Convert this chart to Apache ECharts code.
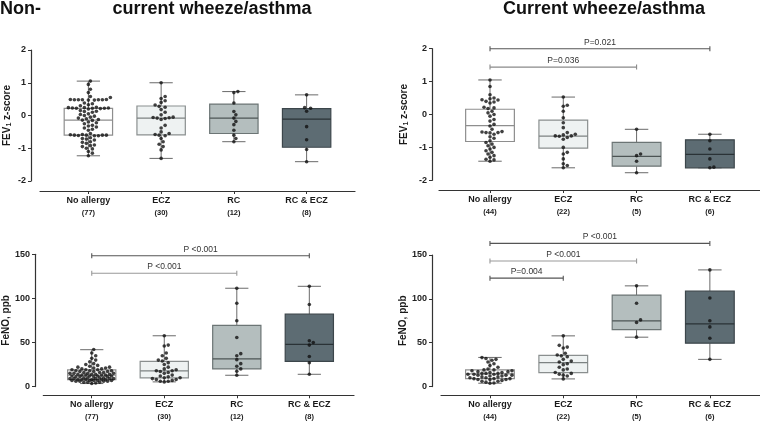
<!DOCTYPE html>
<html><head><meta charset="utf-8">
<script src="https://cdn.jsdelivr.net/npm/echarts@6/dist/echarts.min.js"></script>
<style>html,body{margin:0;padding:0;background:#fff}#c{width:760px;height:421px}</style>
</head><body><div id="c"></div>
<script>
// ---------------- DATA ----------------
const categories = ['No allergy', 'ECZ', 'RC', 'RC & ECZ'];
const countsNon = [77, 30, 12, 8];
const countsCur = [44, 22, 5, 6];
const fevTicks = { min: -2, max: 2, interval: 1 };
const fenoTicks = { min: 0, max: 150, interval: 50 };

// box stats: [min, Q1, median, Q3, max]
const fevNonBox = [[-1.23, -0.6, -0.14, 0.22, 1.05], [-1.31, -0.59, -0.08, 0.29, 1.0], [-0.8, -0.55, -0.08, 0.35, 0.73], [-1.41, -0.97, -0.11, 0.21, 0.63]];
const fevCurBox = [[-1.42, -0.82, -0.34, 0.16, 1.05], [-1.62, -1.02, -0.66, -0.17, 0.53], [-1.77, -1.57, -1.27, -0.85, -0.45], [-1.62, -1.62, -1.21, -0.77, -0.6]];
const fenoNonBox = [[3.4, 7.9, 12.8, 18.8, 41.8], [5.3, 9.8, 17.7, 28.6, 57.6], [12.8, 20, 31.3, 69.3, 111.5], [13.9, 28.6, 47.8, 82.1, 113.7]];
const fenoCurBox = [[3.8, 9.1, 14.4, 18.9, 33.2], [8.7, 15.9, 27.2, 35.5, 57.8], [56.3, 65, 74.8, 104.3, 114.8], [31, 49.5, 71.4, 108.8, 133]];

// individual values
const fevNonNoAllergy = [1.05, 0.95, 0.8, 0.7, 0.58, 0.55, 0.49, 0.48, 0.48, 0.47, 0.48, 0.49, 0.47, 0.48, 0.48, 0.38, 0.36, 0.33, 0.3,
  0.25, 0.24, 0.23, 0.23, 0.22, 0.22, 0.21, 0.22, 0.24, 0.2, 0.15, 0.13, 0.12, 0.1, 0.05, 0.03, 0.0, -0.02, -0.05,
  -0.08, -0.1, -0.12, -0.14, -0.15, -0.2, -0.22, -0.25, -0.3, -0.32, -0.35, -0.38, -0.42, -0.45,
  -0.55, -0.58, -0.6, -0.6, -0.6, -0.61, -0.62, -0.6, -0.59, -0.62, -0.68, -0.7, -0.72, -0.75, -0.8, -0.82, -0.85,
  -0.9, -0.92, -0.95, -1.0, -1.02, -1.1, -1.15, -1.23];
const fevNonECZ = [1.0, 0.58, 0.52, 0.45, 0.4, 0.32, 0.28, 0.25, 0.18, 0.1, 0.02, -0.05, -0.06, -0.07, -0.08, -0.09, -0.12, -0.3, -0.38, -0.5, -0.55, -0.58, -0.6, -0.62, -0.7, -0.8, -0.88, -0.95, -1.05, -1.31];
const fevNonRC = [0.73, 0.70, 0.38, 0.12, 0.02, -0.08, -0.18, -0.28, -0.45, -0.6, -0.7, -0.8];
const fevNonRCECZ = [0.63, 0.24, 0.22, 0.13, -0.34, -0.74, -1.04, -1.41];

const fevCurNoAllergy = [1.05, 0.85, 0.6, 0.5, 0.48, 0.45, 0.44, 0.4, 0.38, 0.35, 0.22, 0.2, 0.18, 0.1, 0.05, 0.0, -0.05, -0.15, -0.2, -0.3, -0.35, -0.45,
  -0.52, -0.53, -0.55, -0.55, -0.56, -0.6, -0.68, -0.72, -0.8, -0.85, -0.9, -0.95, -1.0, -1.05, -1.1, -1.15, -1.2, -1.25, -1.3, -1.36, -1.38, -1.42];
const fevCurECZ = [0.53, 0.28, 0.25, 0.1, -0.1, -0.25, -0.4, -0.55, -0.6, -0.62, -0.65, -0.65, -0.66, -0.7, -0.75, -1.0, -1.15, -1.2, -1.35, -1.5, -1.55, -1.62];
const fevCurRC = [-0.45, -1.2, -1.25, -1.42, -1.77];
const fevCurRCECZ = [-0.6, -0.8, -1.05, -1.35, -1.6, -1.62];

const fenoNonNoAllergy = [42, 38, 35, 32, 30, 28, 26, 25, 24, 23, 22, 22, 21, 21, 20, 20, 19, 19, 19, 18, 18, 18, 17, 17, 17, 16, 16, 16,
  15, 15, 15, 15, 14, 14, 14, 14, 13, 13, 13, 13, 12, 12, 12, 12, 11, 11, 11, 11, 10, 10, 10, 10, 9, 9, 9, 9, 9,
  8, 8, 8, 8, 8, 8, 7, 7, 7, 7, 7, 6, 6, 6, 6, 5, 5, 5, 4, 3.5];
const fenoNonECZ = [57.6, 47, 46, 38, 35, 32, 30, 29, 27, 25, 22, 20, 19, 18, 18, 17, 16, 15, 13, 12, 11, 10, 10, 9, 8, 8, 7, 6, 6, 5.3];
const fenoNonRC = [111.5, 94.5, 74.6, 55.7, 37.3, 35, 30.5, 26, 23, 20, 17.3, 12.8];
const fenoNonRCECZ = [113.7, 93, 52, 50, 47, 34, 27, 13.9];

const fenoCurNoAllergy = [33, 32, 31, 30, 28, 26, 24, 22, 20, 19, 19, 18, 18, 17, 17, 16, 16, 15, 15, 15, 14, 14, 14, 13, 13, 13,
  12, 12, 11, 11, 10, 10, 9, 9, 9, 8, 8, 8, 7, 6, 6, 5, 4, 3.8];
const fenoCurECZ = [57.8, 47, 45, 44, 38, 36, 35, 34, 31, 29, 28, 26, 25, 22, 20, 19, 16, 15, 14, 13, 12, 8.7];
const fenoCurRC = [114.8, 95, 76, 73, 56.3];
const fenoCurRCECZ = [133, 101, 75, 68, 55, 31];

// significance brackets: [fromGroup, toGroup, yValue, label]
const fevNonSig = [];
const fevCurSig = [[0, 3, 2.0, 'P=0.021'], [0, 2, 1.44, 'P=0.036']];
const fenoNonSig = [[0, 3, 148.4, 'P <0.001'], [0, 2, 128.5, 'P <0.001']];
const fenoCurSig = [[0, 3, 163.2, 'P <0.001'], [0, 2, 143.2, 'P <0.001'], [0, 1, 123.6, 'P=0.004']];

// ---------------- STYLE ----------------
const FONT = 'Liberation Sans, Arial, Helvetica, sans-serif';
const BOX_FILL = ['#ffffff', '#eef2f2', '#b4bebe', '#5d6c73'];
const BOX_STROKE = ['#8e8e8e', '#8a8f8f', '#6c7575', '#3c464b'];
const MED_COLOR = ['#8e8e8e', '#7c8282', '#4c5454', '#2a3236'];
const WHISKER = '#6a6a6a';
const BOX_W = 0.665, CAP_W = 0.32;
const SIG_COLORS = { fevCur: ['#555', '#8a8a8a'], fenoNon: ['#555', '#999'], fenoCur: ['#555', '#999', '#555'] };

const panels = [
  { key: 'fevNon', grid: { left: 40, top: 50, width: 315, height: 131 }, xMin: -0.665, xMax: 3.665, yOff: 9, xOff: 10, ticks: fevTicks,
    name: '{a|FEV}{s|1}{a| z-score}', nameGap: 18, box: fevNonBox, pts: [fevNonNoAllergy, fevNonECZ, fevNonRC, fevNonRCECZ], counts: countsNon, sig: fevNonSig },
  { key: 'fevCur', grid: { left: 439, top: 48.7, width: 321, height: 131.6 }, xMin: -0.696, xMax: 3.684, yOff: 7, xOff: 9.7, ticks: fevTicks,
    name: '{a|FEV}{s|1}{a| z-score}', nameGap: 22, box: fevCurBox, pts: [fevCurNoAllergy, fevCurECZ, fevCurRC, fevCurRCECZ], counts: countsCur, sig: fevCurSig },
  { key: 'fenoNon', grid: { left: 40, top: 254.3, width: 314, height: 132.7 }, xMin: -0.668, xMax: 3.616, yOff: 8.3, xOff: 8.7, ticks: fenoTicks,
    name: '{a|FeNO, ppb}', nameGap: 23, box: fenoNonBox, pts: [fenoNonNoAllergy, fenoNonECZ, fenoNonRC, fenoNonRCECZ], counts: countsNon, sig: fenoNonSig },
  { key: 'fenoCur', grid: { left: 441, top: 255, width: 319, height: 132.3 }, xMin: -0.668, xMax: 3.684, yOff: 9, xOff: 8.7, ticks: fenoTicks,
    name: '{a|FeNO, ppb}', nameGap: 21, box: fenoCurBox, pts: [fenoCurNoAllergy, fenoCurECZ, fenoCurRC, fenoCurRCECZ], counts: countsCur, sig: fenoCurSig }
];

// deterministic beeswarm layout (pixel-space collision avoidance, width-limited)
function swarm(vals, gi, pyPerUnit, pxPerUnit) {
  const d = 3.7, step = 2, maxOff = 22;
  const sorted = vals.slice().sort((a, b) => a - b);
  const placed = [], out = [];
  for (const v of sorted) {
    const y = v * pyPerUnit;
    let best = 0, bestScore = -1, found = false;
    for (let k = 0; k < 80; k++) {
      const cand = k === 0 ? 0 : (k % 2 === 1 ? 1 : -1) * Math.ceil(k / 2) * step;
      if (Math.abs(cand) > maxOff) break;
      let minD = Infinity;
      for (const p of placed) { const dd = Math.hypot(p.x - cand, p.y - y); if (dd < minD) minD = dd; }
      if (minD >= d) { best = cand; found = true; break; }
      if (minD > bestScore + 0.01) { bestScore = minD; best = cand; }
    }
    placed.push({ x: best, y });
    out.push([gi + best / pxPerUnit, v]);
  }
  return out;
}

function makeBoxRenderer() {
  return function (params, api) {
    const i = api.value(0);
    const mn = api.value(1), q1 = api.value(2), md = api.value(3), q3 = api.value(4), mx = api.value(5);
    const c = (x, y) => api.coord([x, y]);
    const tl = c(i - BOX_W / 2, q3), br = c(i + BOX_W / 2, q1);
    const top = c(i, mx), bot = c(i, mn), q3p = c(i, q3), q1p = c(i, q1);
    const capL1 = c(i - CAP_W / 2, mx), capR1 = c(i + CAP_W / 2, mx);
    const capL2 = c(i - CAP_W / 2, mn), capR2 = c(i + CAP_W / 2, mn);
    const mL = c(i - BOX_W / 2, md), mR = c(i + BOX_W / 2, md);
    const ls = { stroke: WHISKER, lineWidth: 1 };
    return {
      type: 'group',
      children: [
        { type: 'line', shape: { x1: top[0], y1: top[1], x2: q3p[0], y2: q3p[1] }, style: ls },
        { type: 'line', shape: { x1: q1p[0], y1: q1p[1], x2: bot[0], y2: bot[1] }, style: ls },
        { type: 'line', shape: { x1: capL1[0], y1: capL1[1], x2: capR1[0], y2: capR1[1] }, style: ls },
        { type: 'line', shape: { x1: capL2[0], y1: capL2[1], x2: capR2[0], y2: capR2[1] }, style: ls },
        { type: 'rect', shape: { x: tl[0], y: tl[1], width: br[0] - tl[0], height: br[1] - tl[1] },
          style: { fill: BOX_FILL[i], stroke: BOX_STROKE[i], lineWidth: 1.2 } },
        { type: 'line', shape: { x1: mL[0], y1: mL[1], x2: mR[0], y2: mR[1] }, style: { stroke: MED_COLOR[i], lineWidth: 1.2 } }
      ]
    };
  };
}

function makeSigRenderer(sig, colors) {
  return function (params, api) {
    const a = api.coord([api.value(0), api.value(2)]);
    const b = api.coord([api.value(1), api.value(2)]);
    const col = colors[params.dataIndex];
    const ls = { stroke: col, lineWidth: 1.1 };
    return {
      type: 'group',
      children: [
        { type: 'line', shape: { x1: a[0], y1: a[1], x2: b[0], y2: b[1] }, style: ls },
        { type: 'line', shape: { x1: a[0], y1: a[1] - 2.5, x2: a[0], y2: a[1] + 2.5 }, style: ls },
        { type: 'line', shape: { x1: b[0], y1: b[1] - 2.5, x2: b[0], y2: b[1] + 2.5 }, style: ls },
        { type: 'text', style: { text: sig[params.dataIndex][3], x: (a[0] + b[0]) / 2, y: a[1] - 6.5, align: 'center', verticalAlign: 'middle',
          fontSize: 8.5, fontFamily: FONT, fill: '#333' } }
      ]
    };
  };
}

const grids = [], xAxes = [], yAxes = [], series = [];
panels.forEach((p, idx) => {
  grids.push(p.grid);
  xAxes.push({
    type: 'value', gridIndex: idx, min: p.xMin, max: p.xMax, offset: p.xOff,
    axisLine: { show: true, onZero: false, lineStyle: { color: '#333', width: 1.2 } },
    axisTick: { show: true, customValues: [0, 1, 2, 3], length: 3, lineStyle: { color: '#333' } },
    axisLabel: {
      customValues: [0, 1, 2, 3], margin: 3,
      formatter: v => '{n|' + categories[Math.round(v)] + '}\n{c|(' + p.counts[Math.round(v)] + ')}',
      rich: {
        n: { fontSize: 9, fontWeight: 'bold', fontFamily: FONT, color: '#1a1a1a', lineHeight: 12.5 },
        c: { fontSize: 7.5, fontWeight: 'bold', fontFamily: FONT, color: '#1a1a1a', lineHeight: 12.5 }
      }
    },
    splitLine: { show: false }
  });
  yAxes.push({
    type: 'value', gridIndex: idx, min: p.ticks.min, max: p.ticks.max, interval: p.ticks.interval, offset: p.yOff,
    axisLine: { show: true, onZero: false, lineStyle: { color: '#333', width: 1.2 } },
    axisTick: { show: true, length: 3, lineStyle: { color: '#333' } },
    axisLabel: { fontSize: 9, fontWeight: 'bold', fontFamily: FONT, color: '#222', margin: 5 },
    splitLine: { show: false },
    name: p.name, nameLocation: 'middle', nameGap: p.nameGap, nameRotate: 90,
    nameTextStyle: {
      rich: {
        a: { fontSize: 10, fontWeight: 'bold', fontFamily: FONT, color: '#1a1a1a', lineHeight: 12 },
        s: { fontSize: 7, fontWeight: 'bold', fontFamily: FONT, color: '#1a1a1a', lineHeight: 12, verticalAlign: 'bottom', padding: [5, 0, 0, 0] }
      }
    }
  });
  series.push({
    type: 'custom', xAxisIndex: idx, yAxisIndex: idx, renderItem: makeBoxRenderer(),
    encode: { x: 0, y: [1, 2, 3, 4, 5] }, z: 2, silent: true,
    data: p.box.map((b, i) => [i].concat(b))
  });
  const pyPerUnit = p.grid.height / (p.ticks.max - p.ticks.min);
  const pxPerUnit = p.grid.width / (p.xMax - p.xMin);
  let pts = [];
  p.pts.forEach((vals, gi) => { pts = pts.concat(swarm(vals, gi, pyPerUnit, pxPerUnit)); });
  series.push({
    type: 'scatter', xAxisIndex: idx, yAxisIndex: idx, symbol: 'circle', symbolSize: 3.6, z: 5, silent: true,
    itemStyle: { color: '#111' }, data: pts
  });
  if (p.sig.length) {
    series.push({
      type: 'custom', xAxisIndex: idx, yAxisIndex: idx, renderItem: makeSigRenderer(p.sig, SIG_COLORS[p.key]),
      encode: { x: [0, 1], y: 2 }, z: 4, clip: false, silent: true,
      data: p.sig.map(s => [s[0], s[1], s[2]])
    });
  }
});

const chart = echarts.init(document.getElementById('c'), null, { renderer: 'canvas' });
chart.setOption({
  animation: false,
  backgroundColor: '#fff',
  grid: grids, xAxis: xAxes, yAxis: yAxes, series: series,
  graphic: [
    { type: 'text', x: 0, y: 9, style: { text: 'Non-', fontSize: 18, fontWeight: 'bold', fontFamily: FONT, fill: '#111', align: 'left', verticalAlign: 'middle' } },
    { type: 'text', x: 212, y: 9, style: { text: 'current wheeze/asthma', fontSize: 18, fontWeight: 'bold', fontFamily: FONT, fill: '#111', align: 'center', verticalAlign: 'middle' } },
    { type: 'text', x: 604, y: 9, style: { text: 'Current wheeze/asthma', fontSize: 18, fontWeight: 'bold', fontFamily: FONT, fill: '#111', align: 'center', verticalAlign: 'middle' } }
  ]
});
</script>
</body></html>
